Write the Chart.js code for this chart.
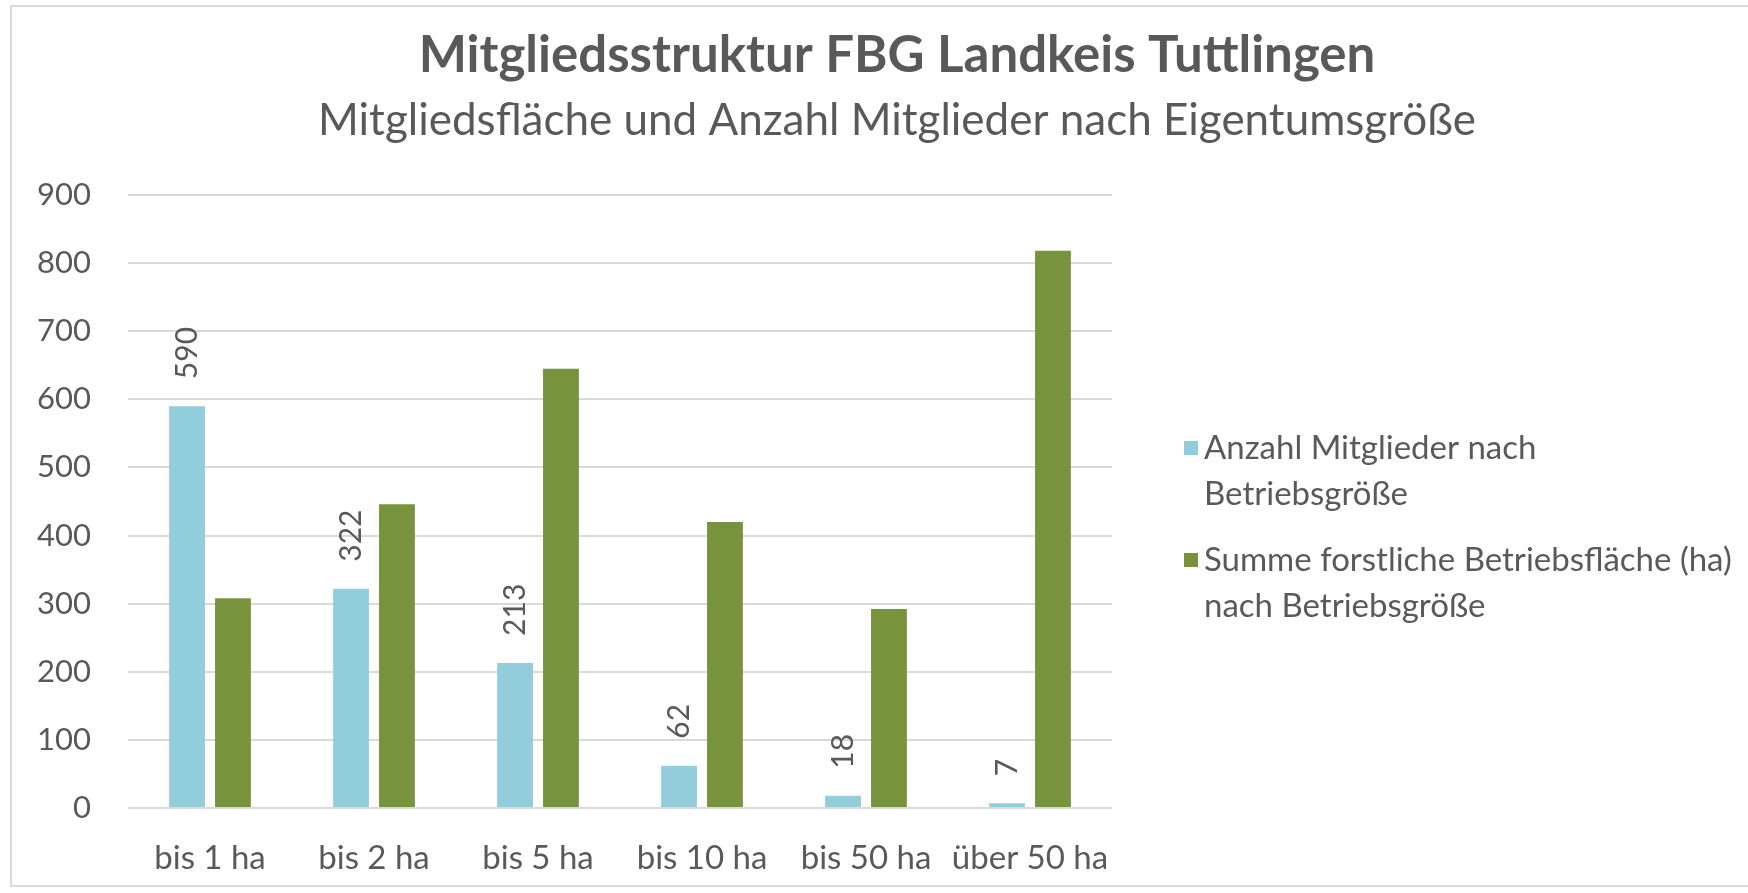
<!DOCTYPE html>
<html>
<head>
<meta charset="utf-8">
<script src="https://cdn.jsdelivr.net/npm/chart.js@4.4.1/dist/chart.umd.min.js"></script>
<style>
  body { margin: 0; background: #fff; }
</style>
</head>
<body>
<canvas id="chart" width="1748" height="893"></canvas>
<script>
const categories = ['bis 1 ha', 'bis 2 ha', 'bis 5 ha', 'bis 10 ha', 'bis 50 ha', 'über 50 ha'];
const mitglieder = [590, 322, 213, 62, 18, 7];
const flaeche = [308, 446, 645, 420, 292, 818];
const yTicks = [0, 100, 200, 300, 400, 500, 600, 700, 800, 900];
const titleText = 'Mitgliedsstruktur FBG Landkeis Tuttlingen';
const subtitleText = 'Mitgliedsfläche und Anzahl Mitglieder nach Eigentumsgröße';
const legendLines = [
    ['Anzahl Mitglieder nach', 'Betriebsgröße'],
    ['Summe forstliche Betriebsfläche (ha)', 'nach Betriebsgröße']
];

const FONT = 'Lato, "Open Sans", sans-serif';
const textColor = '#595959';
const colors = ['#92CDDC', '#77933C'];

// frame, titles, legend and value labels
const decorations = {
    id: 'decorations',
    beforeDraw(chart) {
        const ctx = chart.ctx;
        ctx.save();
        ctx.strokeStyle = '#d9d9d9';
        ctx.lineWidth = 2;
        ctx.strokeRect(11, 6, 1760, 880);
        ctx.restore();
    },
    afterDatasetsDraw(chart) {
        const ctx = chart.ctx;
        const meta = chart.getDatasetMeta(0);
        ctx.save();
        ctx.fillStyle = textColor;
        ctx.font = '30px ' + FONT;
        ctx.textBaseline = 'middle';
        meta.data.forEach((bar, i) => {
            ctx.save();
            ctx.translate(bar.x, bar.y - 27);
            ctx.rotate(-Math.PI / 2);
            ctx.textAlign = 'left';
            ctx.fillText(String(mitglieder[i]), 0, 0);
            ctx.restore();
        });
        ctx.restore();
    },
    afterDraw(chart) {
        const ctx = chart.ctx;
        ctx.save();
        ctx.fillStyle = textColor;
        ctx.textAlign = 'center';
        ctx.textBaseline = 'middle';
        ctx.font = 'bold 51px ' + FONT;
        ctx.fillText(titleText, 897, 56);
        ctx.font = '44px ' + FONT;
        ctx.fillText(subtitleText, 897, 121);

        // legend
        ctx.font = '33px ' + FONT;
        ctx.textAlign = 'left';
        const starts = [448, 560];
        legendLines.forEach((lines, k) => {
            ctx.fillStyle = colors[k];
            ctx.fillRect(1184, starts[k] - 7, 14, 14);
            ctx.fillStyle = textColor;
            lines.forEach((t, j) => ctx.fillText(t, 1204, starts[k] + j * 46));
        });
        ctx.restore();
    }
};

new Chart(document.getElementById('chart'), {
    type: 'bar',
    data: {
        labels: categories,
        datasets: [{
            label: legendLines[0].join(' '),
            data: mitglieder,
            backgroundColor: colors[0],
            categoryPercentage: 0.56,
            barPercentage: 0.78
        }, {
            label: legendLines[1].join(' '),
            data: flaeche,
            backgroundColor: colors[1],
            categoryPercentage: 0.56,
            barPercentage: 0.78
        }]
    },
    options: {
        responsive: false,
        animation: false,
        layout: { padding: { top: 195, right: 636, left: 0, bottom: 0 } },
        plugins: {
            legend: { display: false },
            title: { display: false },
            tooltip: { enabled: false }
        },
        scales: {
            x: {
                grid: { display: false },
                border: { display: false },
                ticks: { color: textColor, font: { family: FONT, size: 33 }, padding: 23, maxRotation: 0 },
                afterFit(scale) { scale.height = 85; }
            },
            y: {
                min: 0,
                max: 900,
                afterBuildTicks(scale) { scale.ticks = yTicks.map(v => ({ value: v })); },
                grid: { color: '#d9d9d9', lineWidth: 2, drawTicks: false },
                border: { display: false },
                ticks: { color: textColor, font: { family: FONT, size: 31 }, padding: 37 },
                afterFit(scale) { scale.width = 128; }
            }
        }
    },
    plugins: [decorations]
});
</script>
</body>
</html>
